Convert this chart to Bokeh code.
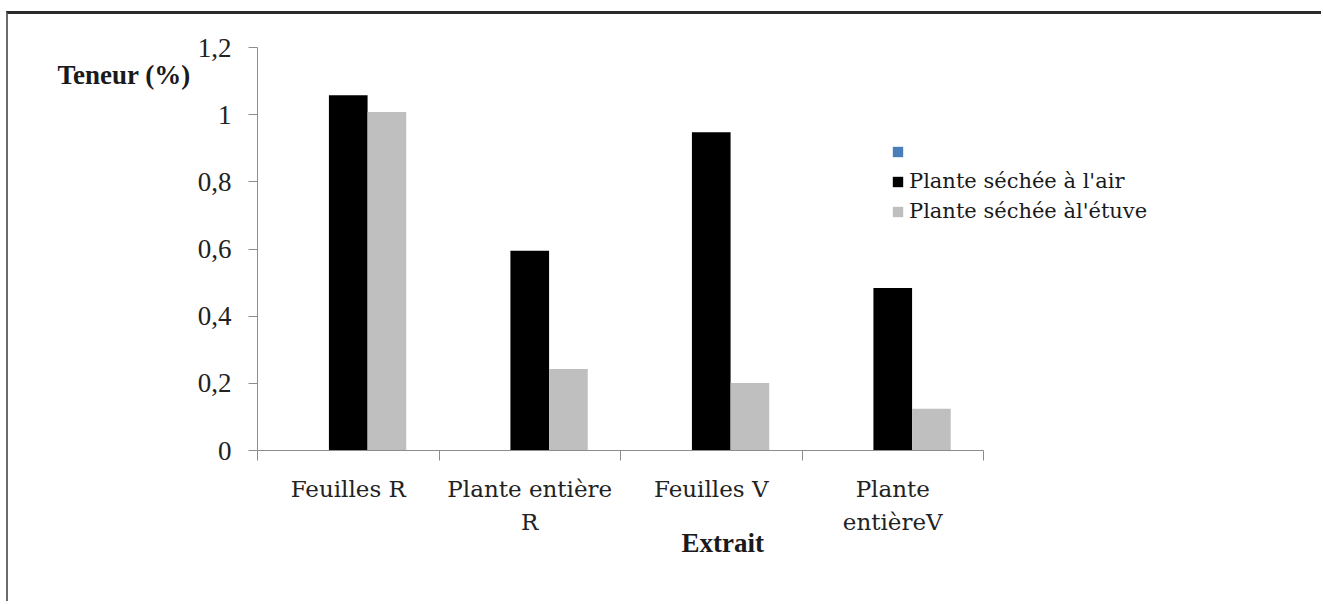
from bokeh.plotting import figure
from bokeh.models import (ColumnDataSource, FixedTicker, Legend, LegendItem, Title)
from bokeh.embed import file_html
from bokeh.resources import INLINE

# ---- data ----
categories = ["Feuilles R", "Plante entière\nR", "Feuilles V", "Plante\nentièreV"]
series_names = ["", "Plante séchée à l'air", "Plante séchée àl'étuve"]
vals_blank = [0, 0, 0, 0]
vals_air = [1.058, 0.595, 0.948, 0.484]
vals_etuve = [1.008, 0.243, 0.201, 0.124]
y_ticks = [0, 0.2, 0.4, 0.6, 0.8, 1.0, 1.2]
y_tick_labels = ["0", "0,2", "0,4", "0,6", "0,8", "1", "1,2"]
colors = ["#4a7ebb", "#000000", "#bfbfbf"]

SERIF = "Liberation Serif"
WIDE = "DejaVu Serif"

W, H = 1315, 590
fl, fr, ft, fb = 249, 1300, 33, 436
px_per_cat = 181.5
xmax = (fr - fl) / px_per_cat

p = figure(width=W, height=H, x_range=(0, xmax), y_range=(0, 1.2),
           output_backend="svg", toolbar_location=None,
           min_border_left=fl, min_border_right=W - fr,
           min_border_top=ft, min_border_bottom=H - fb)
p.styles = {"border-top": "3px solid #2a2a2a", "border-left": "2px solid #6a6a6a",
            "margin-top": "11px", "margin-left": "6px"}
p.background_fill_color = "white"
p.border_fill_color = "white"
p.outline_line_color = None
p.grid.grid_line_color = None

bw = 0.213
offsets = [-bw, 0.0, bw]
renderers = []
for vals, off, col in zip([vals_blank, vals_air, vals_etuve], offsets, colors):
    src = ColumnDataSource(dict(x=[i + 0.5 + off for i in range(len(categories))], top=vals))
    r = p.vbar(x="x", top="top", width=bw, source=src, fill_color=col, line_color=None)
    renderers.append(r)

# y axis
ya = p.yaxis[0]
ya.ticker = FixedTicker(ticks=y_ticks)
ya.major_label_overrides = {t: l for t, l in zip(y_ticks, y_tick_labels)}
ya.axis_line_color = "#8c8c8c"
ya.major_tick_line_color = "#8c8c8c"
ya.major_tick_out = 9
ya.major_tick_in = 0
ya.minor_tick_line_color = None
ya.major_label_standoff = 17
ya.major_label_text_font = SERIF
ya.major_label_text_font_size = "27px"
ya.major_label_text_color = "#222222"

# y title, horizontal, near the top left
p.add_layout(Title(text="Teneur (%)", align="left", offset=-200, standoff=-84,
                   text_font=SERIF, text_font_style="bold", text_font_size="27px",
                   text_color="#1a1a1a"), "above")

# x axis
xa = p.xaxis[0]
centers = [i + 0.5 for i in range(len(categories))]
xa.bounds = (0, len(categories))
xa.ticker = FixedTicker(ticks=centers, minor_ticks=list(range(len(categories) + 1)))
xa.major_label_overrides = {c: l for c, l in zip(centers, categories)}
xa.axis_line_color = "#8c8c8c"
xa.major_tick_line_color = None
xa.minor_tick_line_color = "#8c8c8c"
xa.minor_tick_out = 10
xa.minor_tick_in = 0
xa.major_label_standoff = 15
xa.major_label_text_font = WIDE
xa.major_label_text_font_size = "23px"
xa.major_label_text_color = "#222222"
xa.major_label_text_line_height = 1.3

p.add_layout(Title(text="Extrait", align="left", offset=424, standoff=-25,
                   text_font=SERIF, text_font_style="bold", text_font_size="27px",
                   text_color="#1a1a1a"), "below")

legend = Legend(items=[LegendItem(label=n, renderers=[r]) for n, r in zip(series_names, renderers)],
                location=(634, 227))
legend.background_fill_alpha = 0
legend.border_line_color = None
legend.label_text_font = WIDE
legend.label_text_font_size = "21px"
legend.label_text_color = "#1a1a1a"
legend.glyph_width = 13
legend.glyph_height = 13
legend.label_height = 24
legend.spacing = 6
legend.padding = 0
legend.margin = 0
legend.label_standoff = 5
p.add_layout(legend, "center")

open("out.html", "w").write(file_html(p, INLINE))
